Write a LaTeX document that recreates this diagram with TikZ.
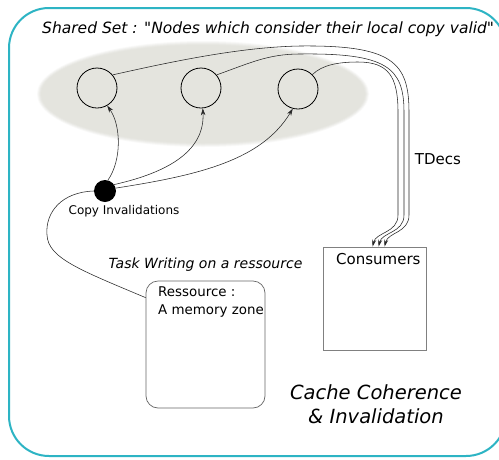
\documentclass[tikz,border=0pt]{standalone}
\usepackage{fontspec}
\setmainfont{DejaVu Sans}
\usetikzlibrary{arrows.meta}
\definecolor{framecol}{RGB}{45,180,196}
\definecolor{setgray}{RGB}{228,228,222}
\tikzset{
  member/.style={circle, draw=black, line width=0.8pt, minimum size=40pt, inner sep=0pt},
  hub/.style={circle, fill=black, minimum size=22pt, inner sep=0pt},
  link/.style={draw=black!85, line width=0.55pt},
  invarrow/.style={link, -{Stealth[length=7pt,width=4.5pt]}},
  decarrow/.style={link, -{Stealth[length=7pt,width=4pt]}},
  resbox/.style={draw=black!60, line width=0.7pt, rounded corners=12pt, minimum width=119pt, minimum height=127pt, inner sep=0pt},
  consbox/.style={draw=black!50, line width=0.8pt, minimum width=103pt, minimum height=103pt, inner sep=0pt},
  txt/.style={inner sep=0pt, font=\fontsize{#1}{#1}\selectfont},
  itxt/.style={inner sep=0pt, font=\fontsize{#1}{#1}\selectfont\itshape},
}
\begin{document}
\begin{tikzpicture}[x=1pt,y=-1pt]
\useasboundingbox (0,0) rectangle (499,459);
\fill[white] (0,0) rectangle (499,459);
\begin{scope}
\clip (0,0) rectangle (499,459);
% outer frame
\draw[framecol, line width=2pt, rounded corners=40pt] (9,8) rectangle (506,456);
% shared set (soft-edged ellipse)
\foreach \d/\o in {4/0.2,3/0.3,2/0.4,1/0.6,0/1}
  \fill[setgray, opacity=\o] (203,94) ellipse [x radius=162+\d, y radius=49+\d];
\end{scope}

% title
\node[itxt=15.5, anchor=base west] (title) at (42,33) {Shared Set : \textquotedbl Nodes which consider their local copy valid\textquotedbl};

% members of the shared set
\node[member] (c1) at (97,88) {};
\node[member] (c2) at (201,88) {};
\node[member] (c3) at (298,89) {};

% invalidation hub
\node[hub] (dot) at (105,191) {};
\node[txt=12] (lblcopy) at (124,211) {Copy Invalidations};

% boxes
\node[resbox] (res) at (205.5,344.5) {};
\node[txt=13.4, anchor=north west, align=left] (restext) at (158,287) {Ressource :\\[4pt]A memory zone};
\node[itxt=14] (tasklbl) at (205.5,264.5) {Task Writing on a ressource};
\node[consbox] (cons) at (374.5,298.5) {};
\node[txt=15, anchor=north west] (constext) at (336,253) {Consumers};

\node[txt=15] (tdecs) at (438,159) {TDecs};
\node[itxt=19.5, align=center] (caption) at (376,404) {Cache Coherence\\[5pt]\& Invalidation};

% invalidations sent to the members
\draw[invarrow] (dot.75) .. controls (122,160) and (121,125) .. (c1.-60);
\draw[invarrow] (dot.35) .. controls (170,172) and (205,150) .. (c2.-85);
\draw[invarrow] (dot.15) .. controls (200,175) and (262,160) .. (c3.-105);

% hub to the ressource
\draw[link] (dot.west) .. controls (62,192) and (45,212) .. (47,235)
  .. controls (48,258) and (80,270) .. ([yshift=-17pt]res.north west);

% TDecs to the consumers
\draw[decarrow] (c1.40) .. controls (170,62) and (240,47) .. (300,46)
  .. controls (392,45) and (409,62) .. (409,112) -- (409,215)
  .. controls (409,233) and (388,232) .. ([xshift=62pt]cons.north west);
\draw[decarrow] (c2.40) .. controls (250,63) and (268,54) .. (300,54)
  .. controls (386,53) and (404,67) .. (404,112) -- (404,215)
  .. controls (404,233) and (382,232) .. ([xshift=56pt]cons.north west);
\draw[decarrow] (c3.45) .. controls (322,65) and (338,62) .. (358,62)
  .. controls (388,62) and (398,76) .. (398,112) -- (398,215)
  .. controls (398,233) and (376,232) .. ([xshift=50pt]cons.north west);
\end{tikzpicture}
\end{document}
